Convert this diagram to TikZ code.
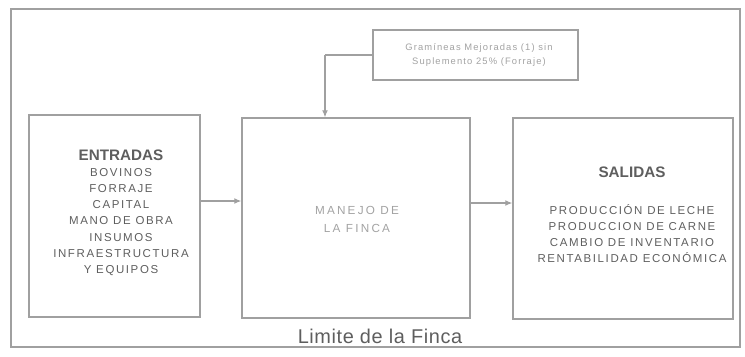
\documentclass[tikz,border=0pt]{standalone}
\usepackage{fontspec}
\setmainfont{Liberation Sans}
\usetikzlibrary{arrows.meta}
\definecolor{linea}{HTML}{A0A0A0}
\definecolor{texto}{HTML}{5E5E5E}
\definecolor{tenue}{HTML}{A2A2A2}
\begin{document}
\begin{tikzpicture}[x = 0.03cm, y = -0.03cm,
        caja/.style = {draw = linea, line width = 1.1pt, inner sep = 0pt},
        flujo/.style = {draw = linea, line width = 1pt, -{Latex[length = 6pt, width = 5pt]}},
        titulo/.style = {text = texto, inner sep = 0pt, font = \bfseries\fontsize{13}{15}\selectfont},
        lista/.style = {text = texto, align = center, inner sep = 0pt,
                        font = \fontsize{9.8}{13.8}\selectfont\addfontfeature{LetterSpace = 14}}]
        \useasboundingbox (0, 0) rectangle (745, 356);
        % marco y cajas
        \node[caja, line width = 0.9pt, minimum width = 21.87cm, minimum height = 10.14cm] (finca) at (375.5, 178) {};
        \node[caja, minimum width = 6.15cm, minimum height = 1.5cm] (tecno) at (475.5, 55) {};
        \node[caja, minimum width = 5.13cm, minimum height = 6.06cm] (entradas) at (114.5, 216) {};
        \node[caja, minimum width = 6.84cm, minimum height = 6.0cm] (manejo) at (356, 218) {};
        \node[caja, minimum width = 6.6cm, minimum height = 6.03cm] (salidas) at (623, 218.5) {};
        % textos
        \node[text = tenue, align = center, inner sep = 0pt,
              font = \fontsize{8}{12}\selectfont\addfontfeature{LetterSpace = 12}]
            (tecnotxt) at (479, 55) {Gramíneas Mejoradas (1) sin\\Suplemento 25\% (Forraje)};
        \node[titulo] (entradastit) at (121, 155) {ENTRADAS};
        \node[lista] (entradastxt) at (121, 222)
            {BOVINOS\\FORRAJE\\CAPITAL\\MANO DE OBRA\\INSUMOS\\INFRAESTRUCTURA\\Y EQUIPOS};
        \node[text = tenue, align = center, inner sep = 0pt,
              font = \fontsize{10}{15.3}\selectfont\addfontfeature{LetterSpace = 19}]
            (manejotxt) at (357, 219) {MANEJO DE\\LA FINCA};
        \node[titulo] (salidastit) at (632, 172) {SALIDAS};
        \node[lista] (salidastxt) at (632, 233.5)
            {PRODUCCIÓN DE LECHE\\PRODUCCION DE CARNE\\CAMBIO DE INVENTARIO\\RENTABILIDAD ECONÓMICA};
        \node[text = texto, inner sep = 0pt, font = \fontsize{17}{19}\selectfont\addfontfeature{LetterSpace = 3}]
            (limite) at (380, 336) {Limite de la Finca};
        % conectores
        \coordinate (bajada) at (325, 55);
        \draw[draw = linea, line width = 1pt] (tecno.west) -- (bajada);
        \draw[flujo] (bajada) -- (bajada |- manejo.north);
        \draw[flujo] (entradas.east |- 0, 201) -- (manejo.west |- 0, 201);
        \draw[flujo] (manejo.east |- 0, 203) -- (salidas.west |- 0, 203);
    \end{tikzpicture}
\end{document}
